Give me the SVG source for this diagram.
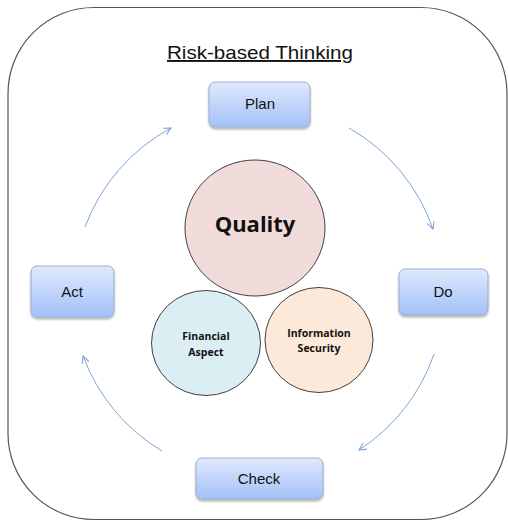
<svg xmlns="http://www.w3.org/2000/svg" width="508" height="521" viewBox="0 0 508 521">
<defs>
<linearGradient id="boxg" x1="0" y1="0" x2="0" y2="1">
<stop offset="0" stop-color="#dfe9fd"/>
<stop offset="1" stop-color="#a3c1f8"/>
</linearGradient>
<filter id="sh" x="-20%" y="-20%" width="140%" height="150%">
<feDropShadow dx="0" dy="2" stdDeviation="1.2" flood-color="#000" flood-opacity="0.3"/>
</filter>
<marker id="ah" viewBox="0 0 10 10" refX="9" refY="5" markerWidth="9" markerHeight="9" markerUnits="userSpaceOnUse" orient="auto">
<path d="M1,1 L9,5 L1,9" fill="none" stroke="#7ea4d8" stroke-width="1.2"/>
</marker>
<style>
.box{fill:url(#boxg);stroke:#9aaccb;stroke-width:1;filter:url(#sh)}
.lbl{font-family:"Liberation Sans",Arial,sans-serif;font-size:15px;fill:#111;text-anchor:middle}
.c{stroke:#404040;stroke-width:1}
.bt{font-family:"Open Sans","Liberation Sans",sans-serif;font-weight:bold;fill:#111;text-anchor:middle}
.arr{fill:none;stroke:#7ea4d8;stroke-width:1;marker-end:url(#ah)}
</style>
</defs>
<rect x="8" y="7.5" width="499" height="512" rx="86" ry="86" fill="#fff" stroke="#555" stroke-width="1.2"/>
<text x="260" y="59" font-family="'Liberation Sans',Arial,sans-serif" font-size="19" text-anchor="middle" fill="#111" text-decoration="underline" textLength="186" lengthAdjust="spacingAndGlyphs">Risk-based Thinking</text>
<g id="connectors">
<path class="arr" d="M85,227 A186,186 0 0 1 171,128"/>
<path class="arr" d="M349,128 A186,186 0 0 1 433,229"/>
<path class="arr" d="M434,354 A186,186 0 0 1 359,450"/>
<path class="arr" d="M162,451 A186,186 0 0 1 83,356"/>
</g>
<g id="plan"><rect class="box" x="209" y="82" width="101" height="45" rx="6"/><text class="lbl" x="260" y="109">Plan</text></g>
<g id="act"><rect class="box" x="31" y="266" width="83" height="51" rx="6"/><text class="lbl" x="72" y="297">Act</text></g>
<g id="do"><rect class="box" x="399" y="269" width="89" height="46" rx="6"/><text class="lbl" x="443" y="297">Do</text></g>
<g id="check"><rect class="box" x="196" y="458" width="127" height="41" rx="6"/><text class="lbl" x="259" y="484">Check</text></g>
<g id="quality"><ellipse class="c" cx="255" cy="228" rx="70" ry="68" fill="#f2dcdb"/><text class="bt" x="255" y="232" font-size="22">Quality</text></g>
<g id="financial"><ellipse class="c" cx="206" cy="343" rx="54.5" ry="52.5" fill="#daeef3"/><text class="bt" x="206" y="340" font-size="10.5">Financial</text><text class="bt" x="206" y="356" font-size="10.5">Aspect</text></g>
<g id="infosec"><ellipse class="c" cx="319" cy="340" rx="54" ry="52.5" fill="#fde9d9"/><text class="bt" x="319" y="337" font-size="10.5">Information</text><text class="bt" x="319" y="352" font-size="10.5">Security</text></g>
</svg>
